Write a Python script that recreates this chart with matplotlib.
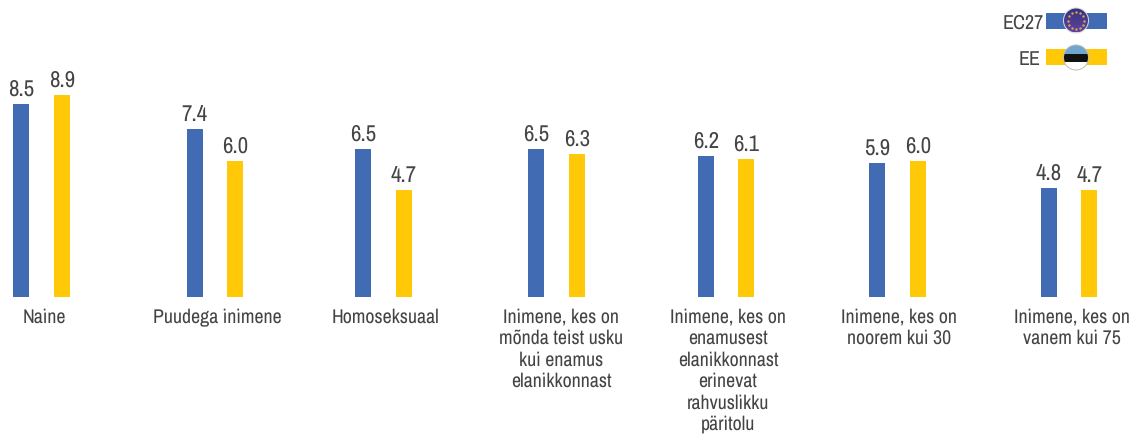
import matplotlib
matplotlib.use('Agg')
import matplotlib.pyplot as plt
from matplotlib.patches import Circle, Rectangle
import numpy as np

categories = ['Naine', 'Puudega inimene', 'Homoseksuaal',
              'Inimene, kes on\nmõnda teist usku\nkui enamus\nelanikkonnast',
              'Inimene, kes on\nenamusest\nelanikkonnast\nerinevat\nrahvuslikku\npäritolu',
              'Inimene, kes on\nnoorem kui 30',
              'Inimene, kes on\nvanem kui 75']
ec27 = [8.5, 7.4, 6.5, 6.5, 6.2, 5.9, 4.8]
ee = [8.9, 6.0, 4.7, 6.3, 6.1, 6.0, 4.7]

BLUE = '#416bb3'
YELLOW = '#ffc907'
TEXT = '#444444'

plt.rcParams['font.family'] = ['Archivo Narrow', 'Liberation Sans', 'DejaVu Sans']
plt.rcParams['text.hinting'] = 'none'
plt.rcParams['text.hinting_factor'] = 1

W, H = 1132, 434
fig = plt.figure(figsize=(W / 100, H / 100), dpi=100)

# bars: x in pixels, y in chart units
ax = fig.add_axes([0, 0, 1, 1])
base = 297
unit = 22.7
ax.set_xlim(0, W)
ax.set_ylim(-(H - base) / unit, base / unit)
ax.axis('off')

centers = np.array([41.5, 215, 383.5, 556.5, 726, 897.5, 1069])
gap = 20.25
ax.bar(centers - gap, ec27, width=16, color=BLUE)
ax.bar(centers + gap, ee, width=16, color=YELLOW)

for c, a, b in zip(centers, ec27, ee):
    ax.text(c - gap, a + 0.19, f'{a:.1f}', ha='center', va='bottom', fontsize=16.5, color=TEXT)
    ax.text(c + gap, b + 0.19, f'{b:.1f}', ha='center', va='bottom', fontsize=16.5, color=TEXT)

label_x = [44, 217, 385, 561, 728, 899, 1072]
for x, name in zip(label_x, categories):
    ax.text(x, -0.5, name, ha='center', va='top', fontsize=14.3, color=TEXT, linespacing=1.255)

# legend and flags, pixel coordinates from the top
lg = fig.add_axes([0, 0, 1, 1])
lg.set_xlim(0, W)
lg.set_ylim(H, 0)
lg.axis('off')
lg.patch.set_alpha(0)

lg.add_patch(Rectangle((1046, 13), 61, 16, color=BLUE, lw=0))
lg.add_patch(Rectangle((1046, 49), 61, 16, color=YELLOW, lw=0))
lg.text(1044, 23, 'EC27', ha='right', va='center', fontsize=14.5, color=TEXT)
lg.text(1041, 59, 'EE', ha='right', va='center', fontsize=14.5, color=TEXT)

# EU flag
lg.add_patch(Circle((1076, 20.5), 13, fc='#d8d8e0', ec='none'))
eu = Circle((1076, 20.5), 12, transform=lg.transData, fc='none', ec='none')
lg.add_patch(eu)
shade = np.linspace(0, 1, 32)[:, None]
colors = np.outer(1 - shade, [0.20, 0.20, 0.50]) + np.outer(shade, [0.38, 0.26, 0.62])
im = lg.imshow(colors[:, None, :], extent=(1064, 1088, 32.5, 8.5), aspect='auto', zorder=2)
im.set_clip_path(eu)
angles = np.linspace(0, 2 * np.pi, 12, endpoint=False)
lg.scatter(1076 + 8.3 * np.cos(angles), 20.5 + 8.3 * np.sin(angles), s=3, c='#d9a94a', linewidths=0, zorder=4)

# Estonian flag
lg.add_patch(Circle((1076, 57.5), 13, fc='#bdbdbd', ec='none'))
clip = Circle((1076, 57.5), 12, transform=lg.transData)
for y0, h, col in zip([45, 53.5, 61.5], [8.5, 8, 8], ['#6fa6d0', '#111111', '#ffffff']):
    r = lg.add_patch(Rectangle((1062, y0), 28, h, fc=col, lw=0, zorder=2))
    r.set_clip_path(clip)

lg.set_xlim(0, W)
lg.set_ylim(H, 0)

fig.savefig('out.png', dpi=100)
